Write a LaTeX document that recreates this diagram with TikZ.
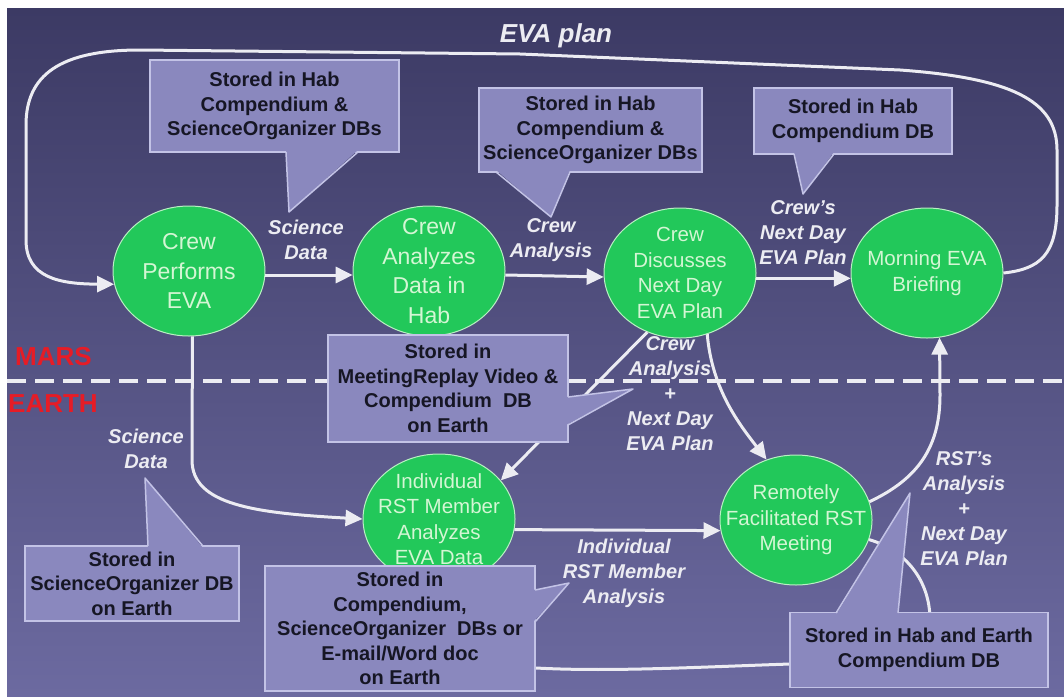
\documentclass[tikz,border=0pt]{standalone}
\usepackage{fontspec}
\setmainfont{Liberation Sans}
\usetikzlibrary{arrows.meta,shapes.geometric}
\definecolor{bgtop}{RGB}{60,58,100}
\definecolor{bgbot}{RGB}{108,106,160}
\definecolor{boxfill}{RGB}{138,136,190}
\definecolor{boxline}{RGB}{195,195,230}
\definecolor{ellfill}{RGB}{34,200,90}
\definecolor{elline}{RGB}{185,240,195}
\definecolor{elltext}{RGB}{212,246,212}
\definecolor{flow}{RGB}{236,236,242}
\definecolor{marsred}{RGB}{230,28,38}
\definecolor{boxtext}{RGB}{22,22,36}
\begin{document}
\begin{tikzpicture}[x=1pt,y=-1pt,
  proc/.style={ellipse, fill=ellfill, draw=elline, line width=1pt,
    minimum width=152pt, minimum height=130pt, inner xsep=-25pt, inner ysep=-20pt,
    align=center, text=elltext, font=\fontsize{20.5}{25.5}\selectfont},
  bigtext/.style={font=\fontsize{23}{29.5}\selectfont},
  store/.style={rectangle, fill=boxfill, draw=boxline, line width=1.5pt,
    inner sep=0pt, align=center, text=boxtext,
    font=\bfseries\fontsize{20}{24.5}\selectfont},
  ptrfill/.style={fill=boxfill},
  ptrline/.style={draw=boxline, line width=1.5pt, line join=round},
  lab/.style={align=center, text=flow, inner sep=0pt,
    font=\bfseries\itshape\fontsize{20}{25}\selectfont},
  planet/.style={anchor=west, text=marsred, inner sep=0pt,
    font=\bfseries\fontsize{26}{30}\selectfont},
  flowline/.style={draw=flow, line width=3pt},
  arr/.style={flowline, -{Triangle[length=17pt,width=16pt]}}]

\useasboundingbox (0,0) rectangle (1064,696);
\fill[white] (0,0) rectangle (1064,696);
\shade[top color=bgtop, bottom color=bgbot] (7,8) rectangle (1064,696);

% Mars / Earth divide
\draw[flow, line width=4pt, dash pattern=on 19pt off 9pt] (7,381) -- (1064,381);
\node[planet] (mars) at (15,357) {MARS};
\node[planet] (earth) at (8,404) {EARTH};

% process ellipses
\node[proc, bigtext] (e1) at (189,271) {Crew\\Performs\\EVA};
\node[proc, bigtext] (e2) at (429,271) {Crew\\Analyzes\\Data in\\Hab};
\node[proc] (e3) at (680,273) {Crew\\Discusses\\Next Day\\EVA Plan};
\node[proc] (e4) at (927,273) {Morning EVA\\Briefing};
\node[proc] (e5) at (439,519) {Individual\\RST Member\\Analyzes\\EVA Data};
\node[proc] (e6) at (796,520) {Remotely\\Facilitated RST\\Meeting};

% connectors
\draw[arr] (e1.-3) -- (e2.183);
\draw[arr] (e2.-3) -- (e3.183);
\draw[arr] (e3.-4) -- (e4.184);
\draw[arr] (e4.east) .. controls (1040,269) and (1057,255) .. (1057,205)
  -- (1057,150) .. controls (1057,100) and (1010,78) .. (900,70)
  -- (520,54) -- (140,50) .. controls (60,50) and (26,75) .. (26,125)
  -- (26,240) .. controls (26,278) and (60,284) .. (e1.190);
\draw[arr] (e1.-87) -- (192,460) .. controls (192,505) and (255,513) .. (e5.west);
\draw[arr] (e3.241) -- (e5.32);
\draw[arr] (e3.-66) .. controls (712,390) and (740,425) .. (e6.116);
\draw[arr] (e5.-8) -- (e6.188);
\draw[arr] (e6.14) .. controls (920,478) and (940,445) .. (940,395) -- (e4.-79);
\draw[flowline] (e6.-15) .. controls (905,550) and (930,580) .. (930,620)
  .. controls (930,655) and (880,662) .. (790,664)
  .. controls (700,667) and (610,672) .. (536,668)
  .. controls (490,666) and (445,620) .. (e5.south);

% callout boxes
\node[store, minimum width=249pt, minimum height=92pt] (bA) at (274.5,106)
  {Stored in Hab\\Compendium \&\\ScienceOrganizer DBs};
\fill[ptrfill] (286,150) -- (289,212) -- (358,150) -- cycle;
\draw[ptrline] (286,152) -- (289,212) -- (358,152);

\node[store, minimum width=223pt, minimum height=84pt] (bB) at (590.5,130)
  {Stored in Hab\\Compendium \&\\ScienceOrganizer DBs};
\fill[ptrfill] (496,170) -- (551,217) -- (570,170) -- cycle;
\draw[ptrline] (496,172) -- (551,217) -- (570,172);

\node[store, minimum width=198pt, minimum height=66pt] (bC) at (853,121)
  {Stored in Hab\\Compendium DB};
\fill[ptrfill] (794,152) -- (803,194) -- (834,152) -- cycle;
\draw[ptrline] (794,154) -- (803,194) -- (834,154);

\node[store, minimum width=240pt, minimum height=107pt] (bD) at (448,388.5)
  {Stored in\\MeetingReplay Video \&\\Compendium~ DB\\on Earth};
\fill[ptrfill] (566,397) -- (633,389) -- (566,425) -- cycle;
\draw[ptrline] (568,397) -- (633,389) -- (568,425);

\node[store, minimum width=270pt, minimum height=125pt] (bE) at (400,628.5)
  {Stored in\\Compendium,\\ScienceOrganizer~ DBs or\\E-mail/Word doc\\on Earth};
\fill[ptrfill] (533,590) -- (569,583) -- (533,622) -- cycle;
\draw[ptrline] (535,590) -- (569,583) -- (535,622);

\node[store, minimum width=214pt, minimum height=75pt] (bF) at (132,583.5)
  {Stored in\\ScienceOrganizer DB\\on Earth};
\fill[ptrfill] (148,548) -- (145,478) -- (203,548) -- cycle;
\draw[ptrline] (148,546) -- (145,478) -- (203,546);

\node[store, minimum width=258pt, minimum height=75pt] (bG) at (919,650)
  {Stored in Hab and Earth\\Compendium DB};
\fill[ptrfill] (836,615) -- (910,493) -- (898,615) -- cycle;
\draw[ptrline] (836,613) -- (910,493) -- (898,613);

% flow labels
\node[lab, font=\bfseries\itshape\fontsize{26}{30}\selectfont] (lplan) at (556,36) {EVA plan};
\node[lab] (l1) at (306,240) {Science\\Data};
\node[lab] (l2) at (551,240) {Crew\\Analysis};
\node[lab] (l3) at (803,233) {Crew’s\\Next Day\\EVA Plan};
\node[lab] (l4) at (670,394) {Crew\\Analysis\\+\\Next Day\\EVA Plan};
\node[lab] (l5) at (146,449) {Science\\Data};
\node[lab] (l6) at (624,573) {Individual\\RST Member\\Analysis};
\node[lab] (l7) at (964,509) {RST’s\\Analysis\\+\\Next Day\\EVA Plan};
\end{tikzpicture}
\end{document}
